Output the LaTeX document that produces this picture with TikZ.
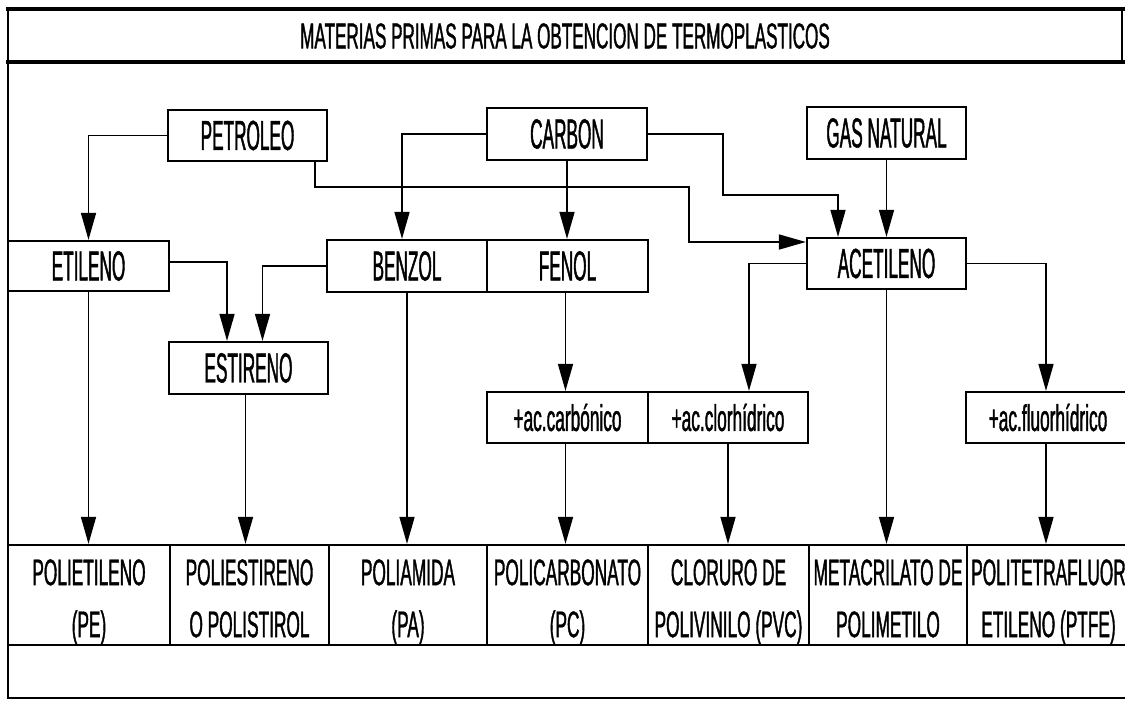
\documentclass[tikz,border=0pt]{standalone}
\usepackage{fontspec}
\setmainfont{Liberation Sans}
\newfontfamily\boxfont[FakeStretch=0.41,FakeBold=1]{Liberation Sans}
\newfontfamily\cellfont[FakeStretch=0.467,FakeBold=1]{Liberation Sans}
\newfontfamily\titlefont[FakeStretch=0.475,FakeBold=1]{Liberation Sans}
\usetikzlibrary{arrows.meta}
\newcommand{\toprule}{\rule{0pt}{40pt}}
\newcommand{\botstrut}{\vphantom{(}}
\begin{document}
\begin{tikzpicture}[x=1pt,y=-1pt,
  box/.style={draw, line width=2.2pt, inner sep=0pt, font=\boxfont\fontsize{42}{46}\selectfont},
  sbox/.style={draw, line width=2.2pt, inner sep=0pt, font=\cellfont\fontsize{37}{40}\selectfont},
  cell/.style={draw, line width=2.2pt, inner sep=0pt, align=center, minimum height=100pt, font=\cellfont\fontsize{37}{52}\selectfont},
  conn/.style={line width=1.5pt},
  arr/.style={conn, -{Triangle[length=27pt,width=15pt]}}]
\useasboundingbox (0,0) rectangle (1125,701);
% frame
\draw[line width=2pt] (8,8) -- (8,698) -- (1130,698);
\draw[line width=4pt] (6,9) -- (1130,9);
\draw[line width=4pt] (6,62) -- (1130,62);
\draw[line width=1.2pt] (1122,8) -- (1122,62);
\node[font=\titlefont\fontsize{36}{40}\selectfont] (title) at (565,36) {MATERIAS PRIMAS PARA LA OBTENCION DE TERMOPLASTICOS};
% top row
\node[box, minimum width=159pt, minimum height=51pt] (petroleo) at (247.5,135.5) {PETROLEO};
\node[box, minimum width=160pt, minimum height=52pt] (carbon) at (567,134) {CARBON};
\node[box, minimum width=159pt, minimum height=52pt] (gas) at (886.5,133) {GAS NATURAL};
% second row
\node[box, minimum width=161pt, minimum height=50pt] (etileno) at (88.5,266) {ETILENO};
\node[box, minimum width=160pt, minimum height=52pt] (benzol) at (407,266) {BENZOL};
\node[box, minimum width=161pt, minimum height=52pt] (fenol) at (567.5,266) {FENOL};
\node[box, minimum width=159pt, minimum height=51pt] (acetileno) at (886.5,263.5) {ACETILENO};
% third row
\node[box, minimum width=159pt, minimum height=52pt] (estireno) at (248.5,368) {ESTIRENO};
\node[sbox, minimum width=161pt, minimum height=51pt] (carbonico) at (567.5,417.5) {+ac.carbónico};
\node[sbox, minimum width=160pt, minimum height=51pt] (clorhidrico) at (728,417.5) {+ac.clorhídrico};
\node[sbox, minimum width=164pt, minimum height=51pt] (fluor) at (1048,417.5) {+ac.fluorhídrico};
% bottom cells
\node[cell, minimum width=162pt] (pe) at (89,595) {\toprule POLIETILENO\\(PE)\botstrut};
\node[cell, minimum width=159pt] (ps) at (249.5,595) {\toprule POLIESTIRENO\\O POLISTIROL\botstrut};
\node[cell, minimum width=158pt] (pa) at (408,595) {\toprule POLIAMIDA\\(PA)\botstrut};
\node[cell, minimum width=161pt] (pc) at (567.5,595) {\toprule POLICARBONATO\\(PC)\botstrut};
\node[cell, minimum width=161pt] (pvc) at (728.5,595) {\toprule CLORURO DE\\POLIVINILO (PVC)\botstrut};
\node[cell, minimum width=158pt] (pmm) at (888,595) {\toprule METACRILATO DE\\POLIMETILO\botstrut};
\node[cell, minimum width=163pt] (ptfe) at (1048.5,595) {\toprule POLITETRAFLUOR\\ETILENO (PTFE)\botstrut};
% connectors
\coordinate (pk0) at (315,0);
\coordinate (pk1) at (689,187);
\coordinate (pk2) at (689,242);
\coordinate (ek) at (0,262);
\draw[arr] (petroleo.south -| pk0) |- (pk1) -- (pk2) -- (acetileno.west |- pk2);
\draw[arr] (petroleo.west) -| (etileno.north);
\draw[arr] (carbon.west) -| ([xshift=-5pt]benzol.north);
\draw[arr] (carbon.south) -- (carbon.south |- fenol.north);
\coordinate (ck1) at (723,195);
\coordinate (ck2) at (838,195);
\draw[arr] (carbon.east) -| (ck1) -- (ck2) -- (ck2 |- acetileno.north);
\draw[arr] (gas.south) -- (acetileno.north);
\draw[arr] (etileno.east |- ek) -| ([xshift=-21.5pt]estireno.north);
\draw[arr] (benzol.west) -| ([xshift=14pt]estireno.north);
\draw[arr] (etileno.south) -- (etileno.south |- pe.north);
\draw[arr] ([xshift=-3pt]estireno.south) -- ([xshift=-3pt]estireno.south |- ps.north);
\draw[arr] (benzol.south) -- (benzol.south |- pa.north);
\draw[arr] ([xshift=-2pt]fenol.south) -- ([xshift=-2pt]fenol.south |- carbonico.north);
\draw[arr] (acetileno.west) -| ([xshift=21pt]clorhidrico.north);
\draw[arr] (acetileno.east) -| ([xshift=-2pt]fluor.north);
\draw[arr] (acetileno.south) -- (acetileno.south |- pmm.north);
\draw[arr] ([xshift=-2pt]carbonico.south) -- ([xshift=-2pt]carbonico.south |- pc.north);
\draw[arr] (clorhidrico.south) -- (clorhidrico.south |- pvc.north);
\draw[arr] ([xshift=-2pt]fluor.south) -- ([xshift=-2pt]fluor.south |- ptfe.north);
\end{tikzpicture}
\end{document}
